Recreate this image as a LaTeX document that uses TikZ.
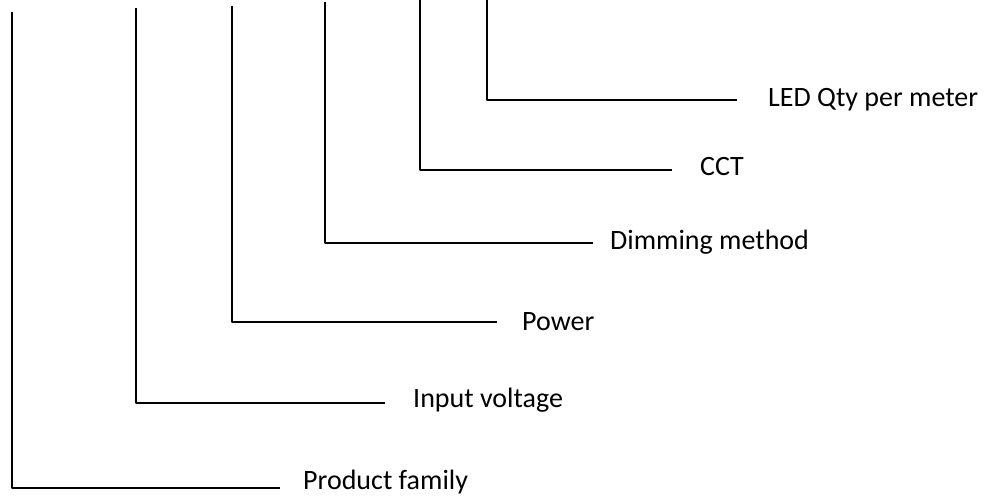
\documentclass[tikz,border=0pt]{standalone}
\usepackage{fontspec}
\setmainfont{Carlito}
\begin{document}
\begin{tikzpicture}[x=1pt,y=-1pt,
  lead/.style={line width=2pt, line join=round},
  lbl/.style={anchor=west, inner sep=0pt, font=\fontsize{28}{32}\selectfont}]
\useasboundingbox (0,0) rectangle (990,497);
% top ends
\coordinate (t1) at (12,12);
\coordinate (t2) at (136,8);
\coordinate (t3) at (232,6);
\coordinate (t4) at (325,2);
\coordinate (t5) at (420,0);
\coordinate (t6) at (487,0);
% corners
\coordinate (c1) at (12,488);
\coordinate (c2) at (136,403);
\coordinate (c3) at (232,322);
\coordinate (c4) at (325,243);
\coordinate (c5) at (420,170);
\coordinate (c6) at (487,100);
% ends
\coordinate (e1) at (280,488);
\coordinate (e2) at (385,403);
\coordinate (e3) at (497,322);
\coordinate (e4) at (593,243);
\coordinate (e5) at (672,170);
\coordinate (e6) at (737,100);
\node[lbl] (l1) at (303,482) {Product family};
\node[lbl] (l2) at (413,400) {Input voltage};
\node[lbl] (l3) at (522,322) {Power};
\node[lbl] (l4) at (610,242) {Dimming method};
\node[lbl] (l5) at (700,167) {CCT};
\node[lbl] (l6) at (768,100) {LED Qty per meter};
\draw[lead] (t1) -- (c1) -- (e1);
\draw[lead] (t2) -- (c2) -- (e2);
\draw[lead] (t3) -- (c3) -- (e3);
\draw[lead] (t4) -- (c4) -- (e4);
\draw[lead] (t5) -- (c5) -- (e5);
\draw[lead] (t6) -- (c6) -- (e6);
\end{tikzpicture}
\end{document}
